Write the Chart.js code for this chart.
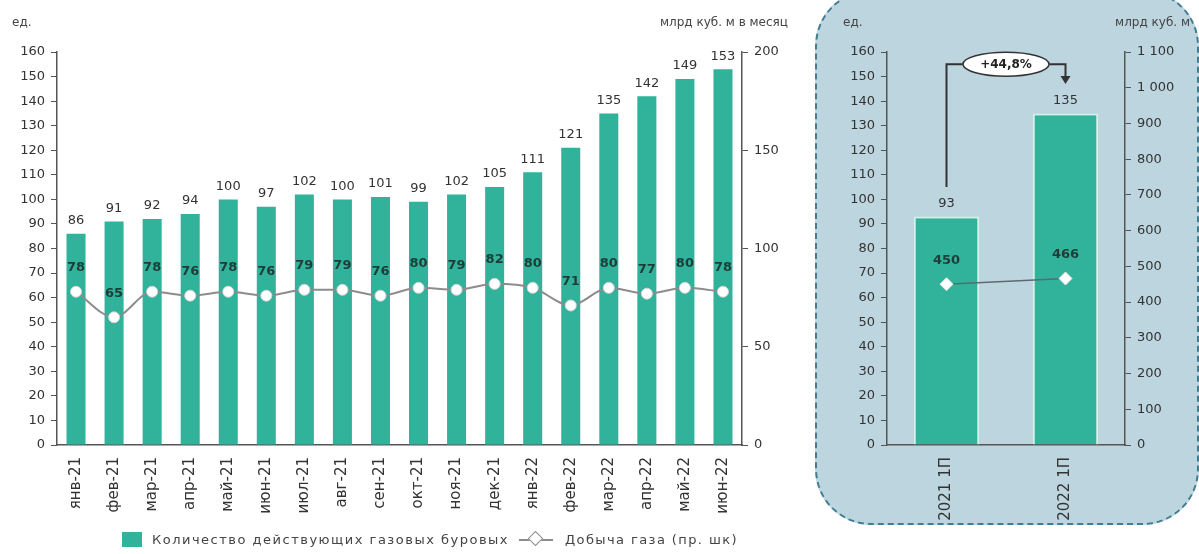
<!DOCTYPE html>
<html>
<head>
<meta charset="utf-8">
<script src="https://cdn.jsdelivr.net/npm/chart.js"></script>
<style>
    body { margin: 0; width: 1199px; height: 554px; overflow: hidden; position: relative; background: #fff; font-family: 'DejaVu Sans', sans-serif; color: #333; }
    .panel { position: absolute; left: 815px; top: -10px; width: 384px; height: 535px; box-sizing: border-box; background: #bdd5df; border: 2px dashed #3f7d93; border-radius: 56px; }
    .box { position: absolute; top: 0; height: 554px; }
    .unit { position: absolute; top: 15px; font-size: 12px; color: #444; white-space: nowrap; }
    .legend { position: absolute; top: 532px; left: 122px; font-size: 13px; color: #444; display: flex; align-items: center; white-space: nowrap; }
    .legend .sq { width: 20px; height: 15px; background: #31b29a; margin-right: 10px; }
    .legend .t1 { letter-spacing: 1.5px; }
    .legend .t2 { letter-spacing: 1.4px; }
    .legend .ln { position: relative; width: 34px; height: 2px; background: #8c8c8c; margin: 0 12px 0 10px; }
    .legend .ln i { position: absolute; left: 11px; top: -6px; width: 9px; height: 9px; background: #fff; border: 1px solid #8c8c8c; transform: rotate(45deg); }
</style>
</head>
<body>
<div class="panel"></div>
<div class="box" style="left:0;width:800px"><canvas id="monthly" width="800" height="554"></canvas></div>
<div class="box" style="left:815px;width:384px"><canvas id="halfyear" width="384" height="554"></canvas></div>
<div class="unit" style="left:12px">ед.</div>
<div class="unit" style="right:411px">млрд куб. м в месяц</div>
<div class="unit" style="left:843px">ед.</div>
<div class="unit" style="right:9px">млрд куб. м</div>
<div class="legend">
    <div class="sq"></div><span class="t1">Количество действующих газовых буровых</span>
    <div class="ln"><i></i></div><span class="t2">Добыча газа (пр. шк)</span>
</div>
<script>
    //data
    const months = ['янв-21', 'фев-21', 'мар-21', 'апр-21', 'май-21', 'июн-21', 'июл-21', 'авг-21', 'сен-21', 'окт-21', 'ноя-21', 'дек-21', 'янв-22', 'фев-22', 'мар-22', 'апр-22', 'май-22', 'июн-22'];
    const rigs = [86, 91, 92, 94, 100, 97, 102, 100, 101, 99, 102, 105, 111, 121, 135, 142, 149, 153];
    const gas = [78, 65, 78, 76, 78, 76, 79, 79, 76, 80, 79, 82, 80, 71, 80, 77, 80, 78];
    const periods = ['2021 1П', '2022 1П'];
    const rigsH1 = [93, 135];
    const gasH1 = [450, 466];
    const growthLabel = '+44,8%';

    const green = '#31b29a';
    const axisColor = '#555';
    const tickFont = { family: 'DejaVu Sans', size: 13 };

    //labels above bars and points
    const valueLabels = {
        id: 'valueLabels',
        afterDatasetsDraw(chart) {
            const ctx = chart.ctx;
            ctx.save();
            ctx.textAlign = 'center';
            ctx.textBaseline = 'middle';
            chart.data.datasets.forEach((ds, i) => {
                const meta = chart.getDatasetMeta(i);
                meta.data.forEach((el, j) => {
                    if (ds.type === 'line') {
                        ctx.font = 'bold 13px "DejaVu Sans"';
                        ctx.fillStyle = '#1e3d38';
                        ctx.fillText(ds.data[j], el.x, el.y - 24);
                    } else {
                        ctx.font = '13px "DejaVu Sans"';
                        ctx.fillStyle = '#333';
                        ctx.fillText(ds.data[j], el.x, el.y - 13);
                    }
                });
            });
            ctx.restore();
        }
    };

    //bracket with growth label between the two bars
    const growthBracket = {
        id: 'growthBracket',
        afterDatasetsDraw(chart) {
            const ctx = chart.ctx;
            const y = chart.scales.y;
            const bars = chart.getDatasetMeta(1).data;
            const x1 = bars[0].x, x2 = bars[1].x;
            const top = y.getPixelForValue(155);
            const start = y.getPixelForValue(rigsH1[0] + 12);
            const end = y.getPixelForValue(rigsH1[1] + 12);
            const cx = (x1 + x2) / 2;
            ctx.save();
            ctx.strokeStyle = '#333';
            ctx.lineWidth = 2;
            ctx.beginPath();
            ctx.moveTo(x1, start);
            ctx.lineTo(x1, top);
            ctx.lineTo(x2, top);
            ctx.lineTo(x2, end - 7);
            ctx.stroke();
            ctx.fillStyle = '#333';
            ctx.beginPath();
            ctx.moveTo(x2 - 5, end - 8);
            ctx.lineTo(x2 + 5, end - 8);
            ctx.lineTo(x2, end);
            ctx.closePath();
            ctx.fill();
            ctx.beginPath();
            ctx.ellipse(cx, top, 43, 12, 0, 0, Math.PI * 2);
            ctx.fillStyle = '#fff';
            ctx.fill();
            ctx.lineWidth = 1.5;
            ctx.stroke();
            ctx.fillStyle = '#222';
            ctx.font = 'bold 12px "DejaVu Sans"';
            ctx.textAlign = 'center';
            ctx.textBaseline = 'middle';
            ctx.fillText(growthLabel, cx, top + 1);
            ctx.restore();
        }
    };

    function axis(position, max, step, width, fmt) {
        return {
            position: position,
            min: 0,
            max: max,
            ticks: { stepSize: step, color: '#333', font: tickFont, padding: 6, callback: fmt || (v => v) },
            grid: { drawOnChartArea: false, color: axisColor, tickLength: 6 },
            border: { color: axisColor, width: 1.5 },
            afterFit: s => { s.width = width; }
        };
    }

    function xAxis() {
        return {
            grid: { display: false },
            border: { color: axisColor, width: 1.5 },
            ticks: { color: '#333', font: { family: 'DejaVu Sans', size: 15 }, maxRotation: 90, minRotation: 90, padding: 4 },
            afterFit: s => { s.height = 109; }
        };
    }

    /*Monthly chart*/
    new Chart(document.getElementById('monthly'), {
        type: 'bar',
        data: {
            labels: months,
            datasets: [{
                type: 'line',
                data: gas,
                yAxisID: 'y1',
                borderColor: '#8c8c8c',
                borderWidth: 2,
                cubicInterpolationMode: 'monotone',
                pointRadius: 5.5,
                pointBackgroundColor: '#fff',
                pointBorderColor: '#d4d4d4',
                pointBorderWidth: 1,
                order: 0
            }, {
                data: rigs,
                yAxisID: 'y',
                backgroundColor: green,
                borderWidth: 0,
                barPercentage: 0.5,
                categoryPercentage: 1,
                order: 1
            }]
        },
        options: {
            responsive: false,
            animation: false,
            layout: { padding: { top: 52, left: 0, right: 0, bottom: 0 } },
            plugins: { legend: { display: false }, tooltip: { enabled: false } },
            scales: {
                x: xAxis(),
                y: axis('left', 160, 10, 57),
                y1: axis('right', 200, 50, 58)
            }
        },
        plugins: [valueLabels]
    });

    /*Half-year chart*/
    new Chart(document.getElementById('halfyear'), {
        type: 'bar',
        data: {
            labels: periods,
            datasets: [{
                type: 'line',
                data: gasH1,
                yAxisID: 'y1',
                borderColor: '#5b6b70',
                borderWidth: 1.5,
                pointStyle: 'rectRot',
                pointRadius: 6.5,
                pointBackgroundColor: '#fff',
                pointBorderColor: '#e6e6e6',
                pointBorderWidth: 1,
                order: 0
            }, {
                data: rigsH1,
                yAxisID: 'y',
                backgroundColor: green,
                borderColor: '#d6f0ea',
                borderWidth: 2,
                barPercentage: 0.55,
                categoryPercentage: 1,
                order: 1
            }]
        },
        options: {
            responsive: false,
            animation: false,
            layout: { padding: { top: 52, left: 0, right: 0, bottom: 0 } },
            plugins: { legend: { display: false }, tooltip: { enabled: false } },
            scales: {
                x: xAxis(),
                y: axis('left', 160, 10, 72),
                y1: axis('right', 1100, 100, 74, v => v >= 1000 ? Math.floor(v / 1000) + ' ' + String(v % 1000).padStart(3, '0') : v)
            }
        },
        plugins: [valueLabels, growthBracket]
    });
</script>
</body>
</html>
